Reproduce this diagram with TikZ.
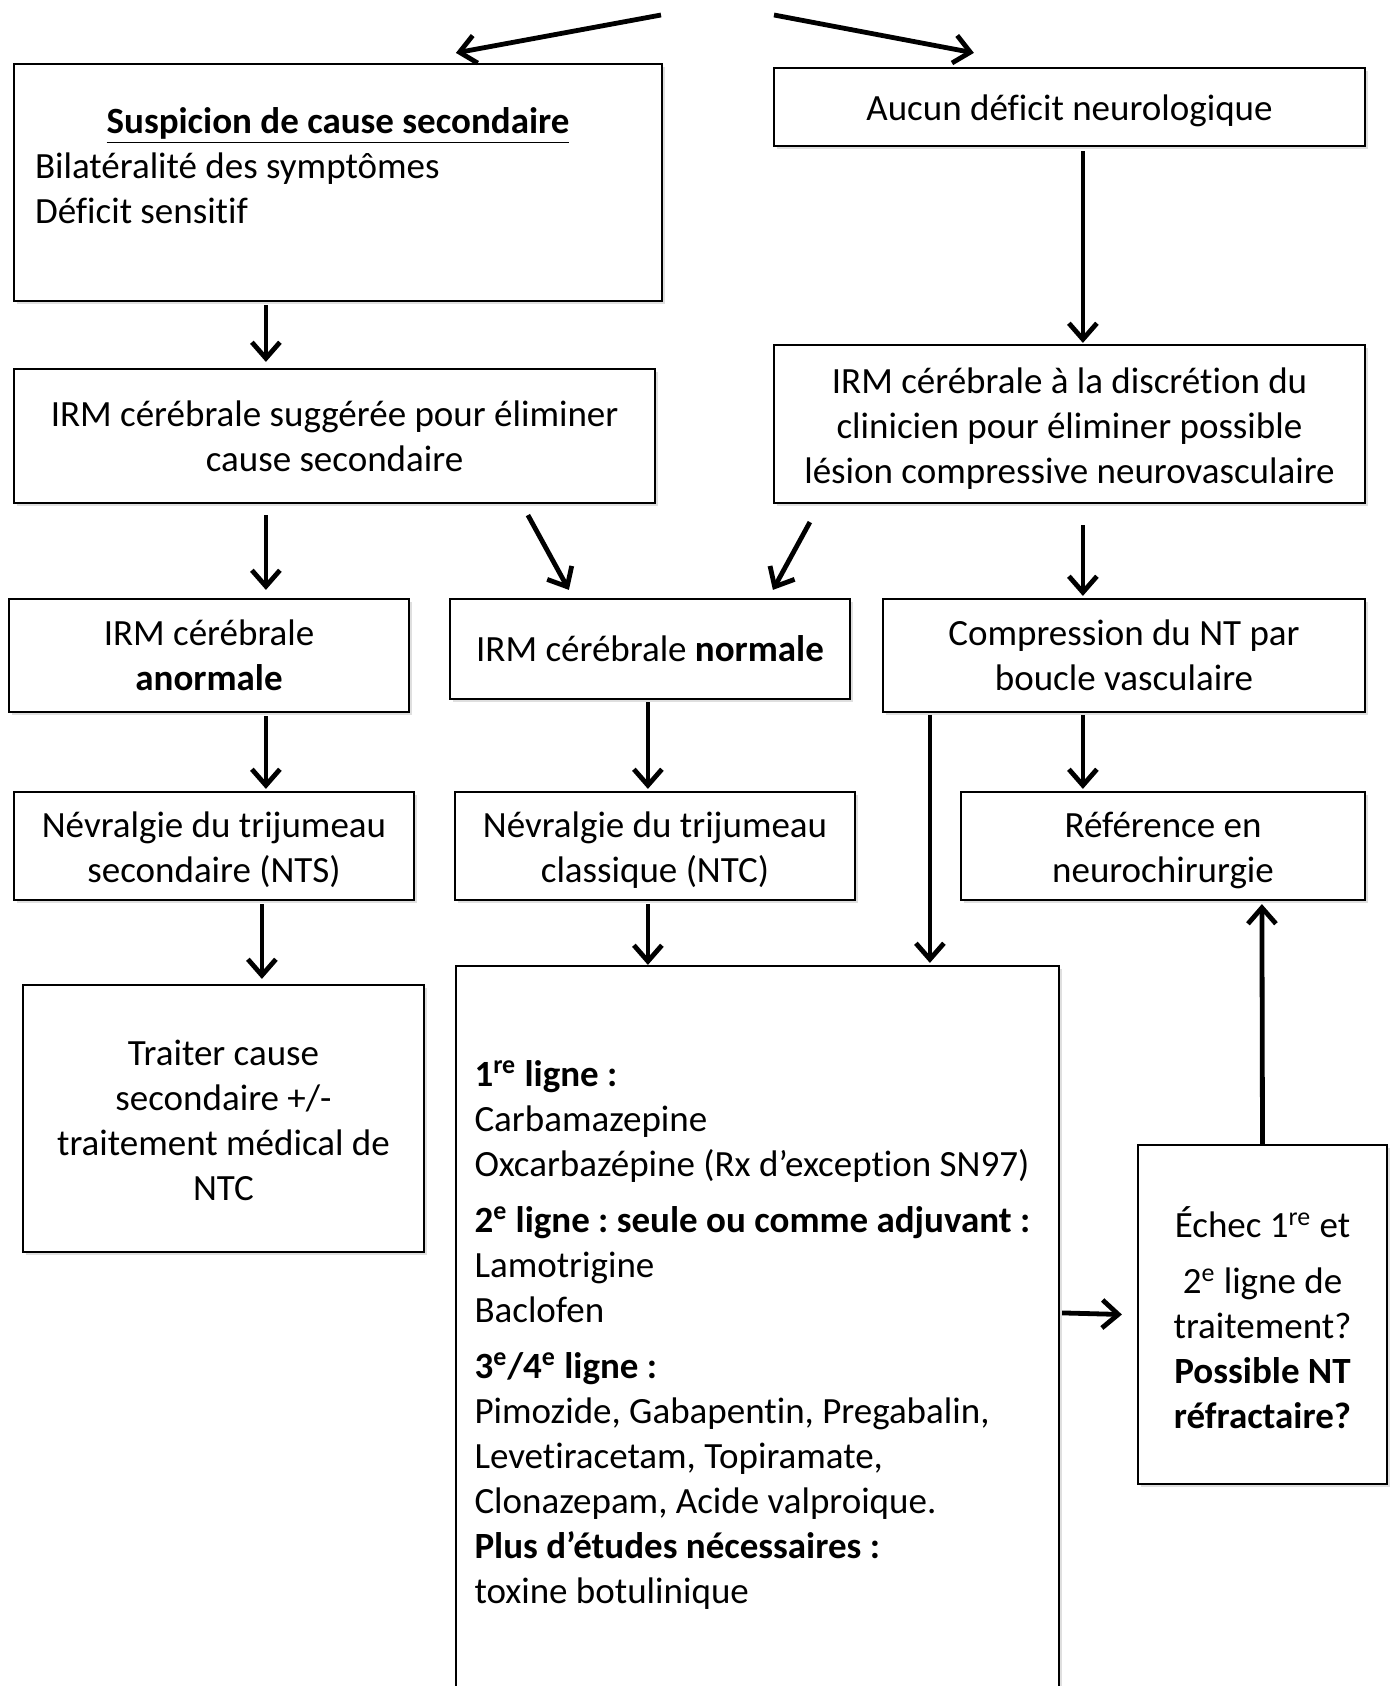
\documentclass[tikz,border=0pt]{standalone}
\usepackage{fontspec}
\setmainfont{Carlito}[Ligatures=NoCommon]
\usepackage{tikz}
\usetikzlibrary{arrows.meta,%
  shadows,%
  calc
}
\frenchspacing
\newcommand{\montee}[1]{\rule{0pt}{#1}}

\begin{document}
\begin{tikzpicture}
                    [
                        x=0.5pt, y=-0.5pt,
                        every node/.style={font=\fontsize{18.5}{22.5}\selectfont},
                        boite/.style={draw, line width=1.1pt, rectangle, align=center, inner sep=0pt, fill=white,
                            drop shadow={opacity=0.25, shadow xshift=1.5pt, shadow yshift=-1.5pt}},
                        fleche/.style={line width=2.4pt, -{Straight Barb[length=8pt,width=14pt]}}
                    ]

                    % Cadre
                    \useasboundingbox (0,0) rectangle (1390,1686);
                    \clip (0,0) rectangle (1390,1686);

                    % Colonne gauche
                    \node[boite, minimum width=324pt, minimum height=118.5pt] (susp) at (338,182.5)
                        {\parbox[c][118.5pt][t]{303pt}{\vspace*{22pt}{\centering\textbf{\underline{Suspicion de cause secondaire}}\par}\raggedright Bilatéralité des symptômes\\Déficit sensitif}};
                    \node[boite, minimum width=320.5pt, minimum height=67pt] (irmS) at (334.5,436)
                        {IRM cérébrale suggérée pour éliminer\\cause secondaire};
                    \node[boite, minimum width=200pt, minimum height=56.5pt] (anorm) at (209,655.5)
                        {IRM cérébrale\\\textbf{anormale}};
                    \node[boite, minimum width=200pt, minimum height=54pt] (nts) at (214,846)
                        {\montee{17pt}Névralgie du trijumeau\\secondaire (NTS)};
                    \node[boite, minimum width=200.5pt, minimum height=133.5pt] (traiter) at (223.5,1118.5)
                        {\montee{14.6pt}Traiter cause\\secondaire +/-\\traitement médical de\\NTC};

                    % Colonne centrale
                    \node[boite, minimum width=200pt, minimum height=50pt] (normal) at (650,649)
                        {IRM cérébrale \textbf{normale}};
                    \node[boite, minimum width=200pt, minimum height=54pt] (ntc) at (655,846)
                        {\montee{17pt}Névralgie du trijumeau\\classique (NTC)};
                    \node[boite, minimum width=301.5pt, minimum height=368.5pt] (big) at (757.5,1334.5)
                        {\parbox{283pt}{\raggedright
                         \textbf{1\textsuperscript{re} ligne :}\\
                         Carbamazepine\\
                         Oxcarbazépine (Rx d’exception SN97)\\[5.5pt]
                         \textbf{2\textsuperscript{e} ligne : seule ou comme adjuvant :}\\
                         Lamotrigine\\
                         Baclofen\\[5.5pt]
                         \textbf{3\textsuperscript{e}/4\textsuperscript{e} ligne :}\\
                         Pimozide, Gabapentin, Pregabalin,\\
                         Levetiracetam, Topiramate,\\
                         Clonazepam, Acide valproique.\\
                         \textbf{Plus d’études nécessaires :}\\
                         toxine botulinique}};

                    % Colonne droite
                    \node[boite, minimum width=295.5pt, minimum height=39pt] (aucun) at (1069.5,107)
                        {\montee{17pt}Aucun déficit neurologique};
                    \node[boite, minimum width=295.5pt, minimum height=79pt] (irmD) at (1069.5,424)
                        {\montee{17pt}IRM cérébrale à la discrétion du\\clinicien pour éliminer possible\\lésion compressive neurovasculaire};
                    \node[boite, minimum width=241pt, minimum height=56.5pt] (compr) at (1124,655.5)
                        {Compression du NT par\\boucle vasculaire};
                    \node[boite, minimum width=202pt, minimum height=54pt] (refer) at (1163,846)
                        {\montee{17pt}Référence en\\neurochirurgie};
                    \node[boite, minimum width=124.5pt, minimum height=169.5pt] (echec) at (1262.5,1314.5)
                        {\montee{18.7pt}Échec 1\textsuperscript{re} et\\[5.5pt]2\textsuperscript{e} ligne de\\traitement?\\\textbf{Possible NT}\\\textbf{réfractaire?}};

                    % Fleches
                    \coordinate (hautG) at (661,15);
                    \coordinate (hautD) at (774,15);
                    \draw[fleche] (hautG) -- ([shift={(443,-10)}]susp.north west);
                    \draw[fleche] (hautD) -- ([shift={(201,-14)}]aucun.north west);
                    \draw[fleche] ([shift={(253,3)}]susp.south west) -- ([shift={(253,-6)}]irmS.north west);
                    \draw[fleche] ([shift={(310,4)}]aucun.south west) -- ([shift={(310,-1)}]irmD.north west);
                    \draw[fleche] ([shift={(253,11)}]irmS.south west) -- ([shift={(258,-8)}]anorm.north west);
                    \draw[fleche] ([shift={(515,11)}]irmS.south west) -- ([shift={(120,-8)}]normal.north west);
                    \draw[fleche] ([shift={(37,18)}]irmD.south west) -- ([shift={(324,-8)}]normal.north west);
                    \draw[fleche] ([shift={(310,21)}]irmD.south west) -- ([shift={(201,-2)}]compr.north west);
                    \draw[fleche] ([shift={(258,3)}]anorm.south west) -- ([shift={(253,-2)}]nts.north west);
                    \draw[fleche] ([shift={(199,2)}]normal.south west) -- ([shift={(194,-2)}]ntc.north west);
                    \draw[fleche] ([shift={(201,2)}]compr.south west) -- ([shift={(123,-2)}]refer.north west);
                    \draw[fleche] ([shift={(48,2)}]compr.south west) -- ([shift={(475,-2)}]big.north west);
                    \draw[fleche] ([shift={(249,3)}]nts.south west) -- ([shift={(240,-5)}]traiter.north west);
                    \draw[fleche] ([shift={(194,3)}]ntc.south west) -- ([shift={(193,0)}]big.north west);
                    \draw[fleche] ([shift={(2,348)}]big.north east) -- ([shift={(-15,0)}]echec.west);
                    \draw[fleche] (echec.north) -- ([shift={(302,3)}]refer.south west);
                \end{tikzpicture}
\end{document}
